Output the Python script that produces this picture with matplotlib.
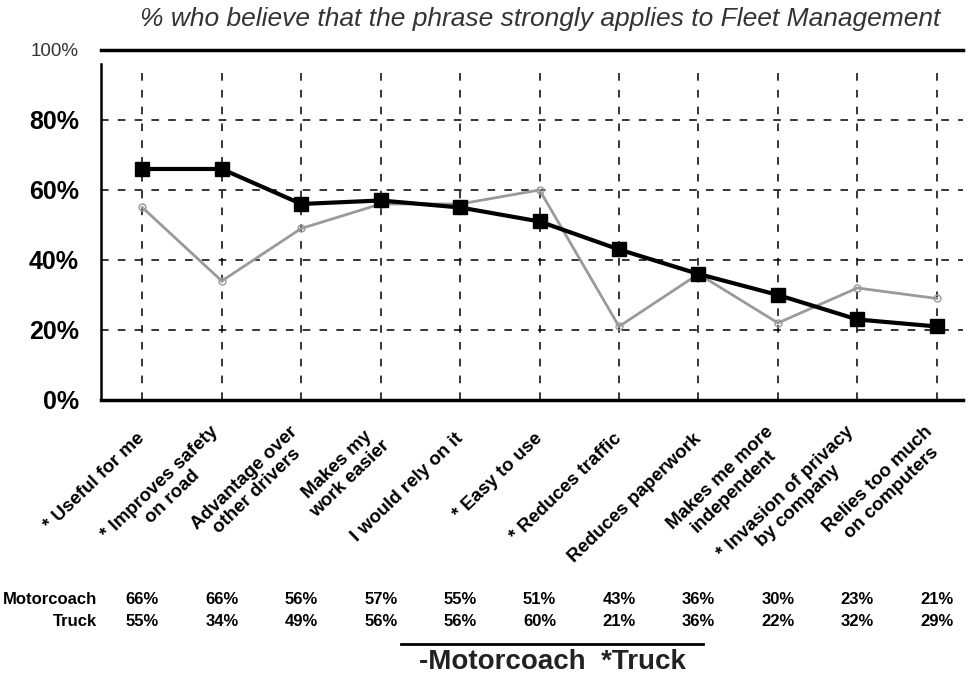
import numpy as np
import matplotlib.pyplot as plt

# phrases rated by drivers
categories = ['* Useful for me', '* Improves safety\non road', 'Advantage over\nother drivers',
              'Makes my\nwork easier', 'I would rely on it', '* Easy to use', '* Reduces traffic',
              'Reduces paperwork', 'Makes me more\nindependent', '* Invasion of privacy\nby company',
              'Relies too much\non computers']
motorcoach = [66, 66, 56, 57, 55, 51, 43, 36, 30, 23, 21]
truck = [55, 34, 49, 56, 56, 60, 21, 36, 22, 32, 29]
y_ticks = [0, 20, 40, 60, 80, 100]
y_labels = ['0%', '20%', '40%', '60%', '80%', '100%']

plt.rcParams['font.family'] = ['Liberation Sans', 'DejaVu Sans']

fig = plt.figure(figsize=(9.77, 6.8), dpi=100)
ax = fig.add_axes([0.1034, 0.4118, 0.8823, 0.5147])
x = np.arange(len(categories))

# grid
for xi in x:
    ax.axvline(xi, ymin=0, ymax=0.96, color='black', lw=1.1, ls=(0, (5, 6)), zorder=1)
for yv in y_ticks[1:-1]:
    ax.axhline(yv, color='black', lw=1.1, ls=(0, (5, 6)), zorder=1)

ax.plot(x, truck, color='#9a9a9a', lw=2, marker='o', ms=5, mfc='none', mec='#9a9a9a', zorder=2)
ax.plot(x, motorcoach, color='black', lw=3, marker='s', ms=9.5, zorder=3)

ax.set_xlim(-0.52, 10.33)
ax.set_ylim(0, 100)
ax.spines['right'].set_visible(False)
ax.spines['top'].set_linewidth(2.5)
ax.spines['bottom'].set_linewidth(2.5)
ax.spines['left'].set_linewidth(1.8)
ax.spines['left'].set_bounds(0, 96)

ax.set_yticks(y_ticks)
ax.set_yticklabels(y_labels)
ax.tick_params(axis='y', length=0, pad=16)
for lab in ax.get_yticklabels():
    if lab.get_text() == '100%':
        lab.set_fontsize(13.5)
        lab.set_fontweight('normal')
        lab.set_color('#333333')
    else:
        lab.set_fontsize(18)
        lab.set_fontweight('bold')

ax.set_xticks(x)
ax.set_xticklabels(categories, rotation=44, ha='right', va='center', rotation_mode='anchor',
                   fontsize=13.5, fontweight='bold', multialignment='center', linespacing=1.15)
ax.tick_params(axis='x', length=0, pad=26)

ax.set_title('% who believe that the phrase strongly applies to Fleet Management',
             fontsize=19, style='italic', color='#333333', x=0.51, y=1.045)

# table below the chart
row_y = [0.118, 0.086]
for name, vals, ry in zip(['Motorcoach', 'Truck'], [motorcoach, truck], row_y):
    fig.text(0.099, ry, name, ha='right', va='center', fontsize=12, fontweight='bold')
    for xi, v in zip(x, vals):
        xf = fig.transFigure.inverted().transform(ax.transData.transform((xi, 0)))[0]
        fig.text(xf, ry, f'{v}%', ha='center', va='center', fontsize=12, fontweight='bold')

# legend
fig.add_artist(plt.Line2D([0.41, 0.72], [0.053, 0.053], color='black', lw=2, transform=fig.transFigure))
fig.text(0.565, 0.026, '-Motorcoach  *Truck', ha='center', va='center', fontsize=20,
         fontweight='bold', color='#222222')

fig.savefig('out.png', dpi=100)
